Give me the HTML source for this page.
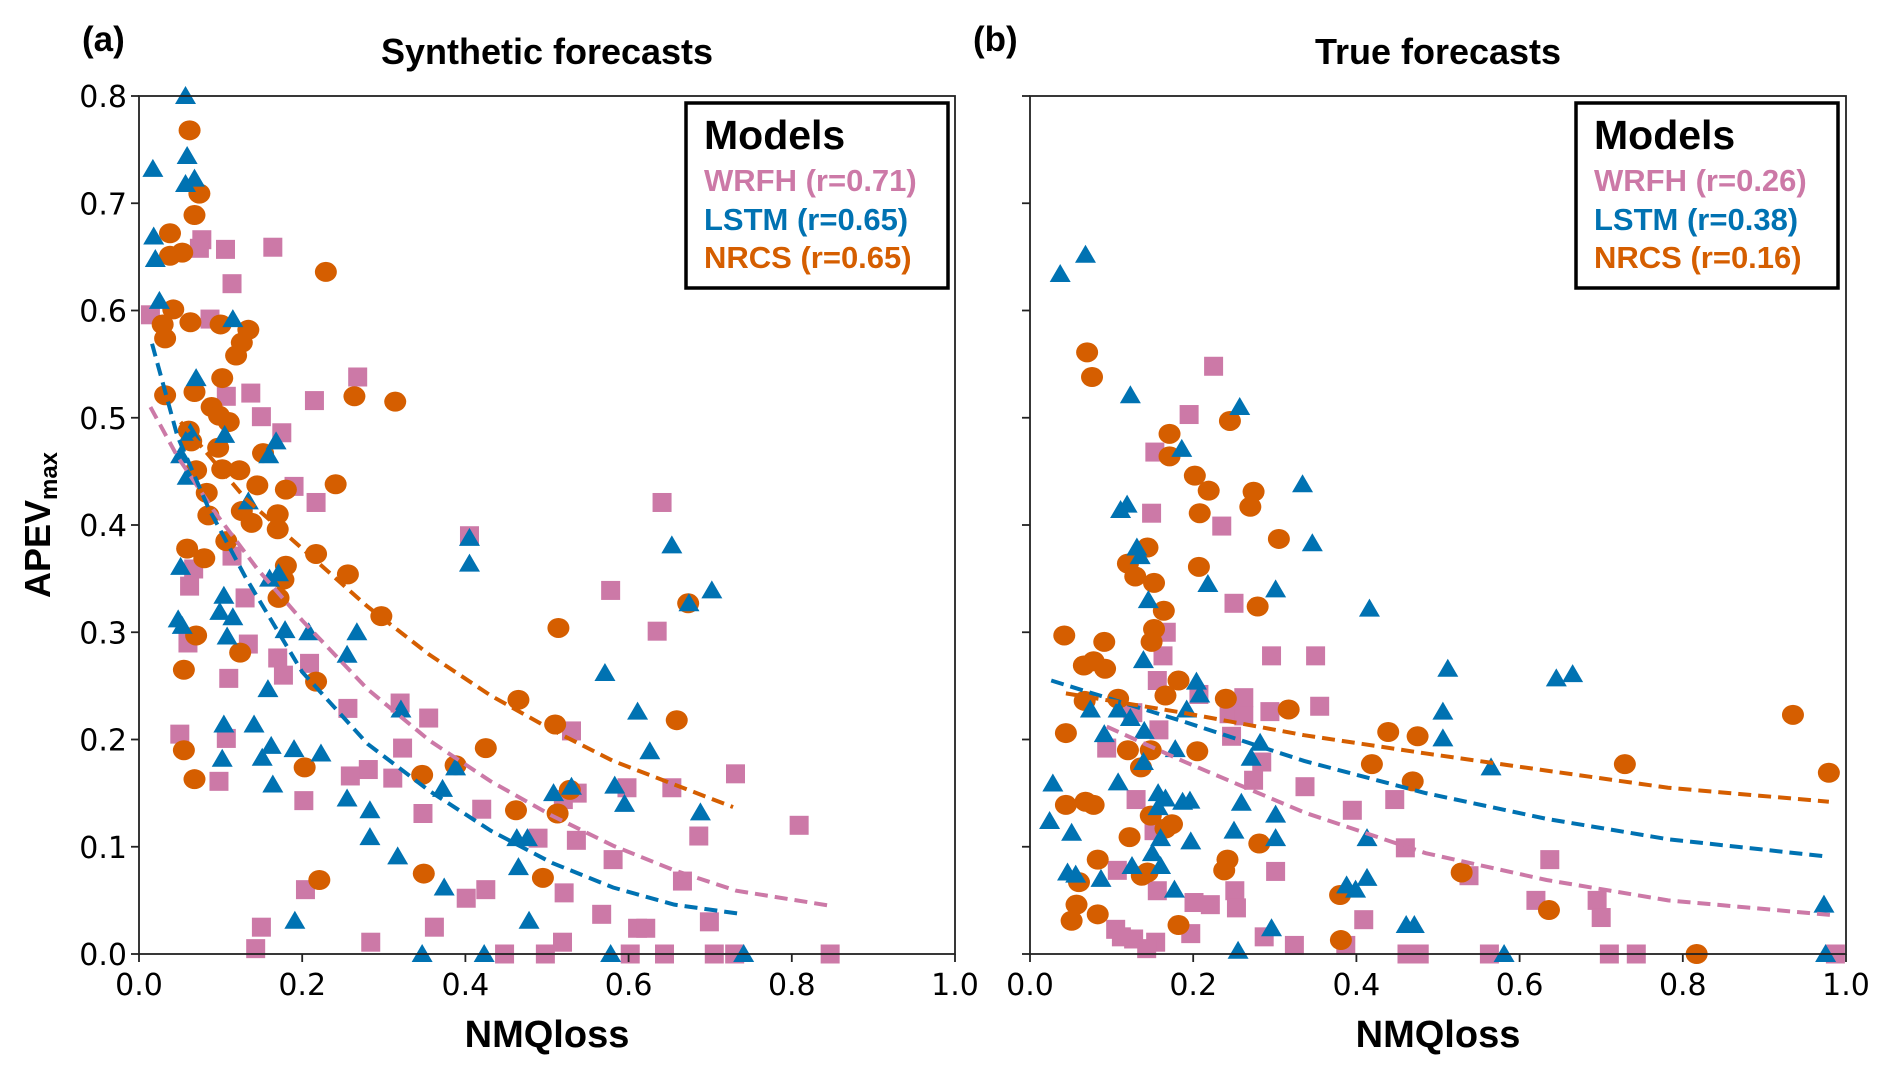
<!DOCTYPE html>
<html><head><meta charset="utf-8"><style>
html,body{margin:0;padding:0;background:#fff;}
svg{display:block;}
.tk{font-family:"DejaVu Sans","Liberation Sans",sans-serif;font-size:30px;fill:#000;}
.bd{font-family:"Liberation Sans",sans-serif;font-weight:bold;fill:#000;}
</style></head><body>
<svg id="chart" width="1892" height="1070" viewBox="0 0 1892 1070" xmlns="http://www.w3.org/2000/svg"></svg>
<script>
const xTicks=[0,0.2,0.4,0.6,0.8,1.0];
const xTickLabels=["0.0","0.2","0.4","0.6","0.8","1.0"];
const yTicks=[0,0.1,0.2,0.3,0.4,0.5,0.6,0.7,0.8];
const yTickLabels=["0.0","0.1","0.2","0.3","0.4","0.5","0.6","0.7","0.8"];
const panelTitles=["Synthetic forecasts","True forecasts"];
const panelLetters=["(a)","(b)"];
const legendA=["WRFH (r=0.71)","LSTM (r=0.65)","NRCS (r=0.65)"];
const legendB=["WRFH (r=0.26)","LSTM (r=0.38)","NRCS (r=0.16)"];

const aWrfh=[[0.014,0.596],[0.077,0.666],[0.074,0.658],[0.106,0.657],[0.114,0.625],[0.164,0.659],[0.087,0.592],[0.107,0.520],[0.137,0.523],[0.150,0.501],[0.175,0.486],[0.215,0.516],[0.268,0.538],[0.190,0.436],[0.217,0.421],[0.114,0.371],[0.067,0.359],[0.062,0.343],[0.130,0.332],[0.060,0.290],[0.134,0.289],[0.110,0.257],[0.170,0.276],[0.177,0.260],[0.209,0.271],[0.256,0.229],[0.320,0.234],[0.355,0.220],[0.323,0.192],[0.311,0.164],[0.281,0.172],[0.259,0.166],[0.202,0.143],[0.098,0.161],[0.107,0.201],[0.050,0.205],[0.348,0.131],[0.420,0.135],[0.204,0.060],[0.401,0.052],[0.425,0.060],[0.362,0.025],[0.150,0.025],[0.143,0.005],[0.284,0.011],[0.448,0.0],[0.498,0.0],[0.519,0.011],[0.521,0.057],[0.489,0.108],[0.536,0.106],[0.537,0.150],[0.520,0.144],[0.530,0.208],[0.405,0.390],[0.578,0.339],[0.641,0.421],[0.635,0.301],[0.598,0.155],[0.653,0.155],[0.581,0.088],[0.567,0.037],[0.611,0.024],[0.621,0.024],[0.602,0.0],[0.644,0.0],[0.666,0.068],[0.686,0.110],[0.699,0.030],[0.705,0.0],[0.730,0.0],[0.731,0.168],[0.809,0.120],[0.847,0.0]];
const aLstm=[[0.057,0.8],[0.017,0.732],[0.059,0.744],[0.068,0.723],[0.057,0.718],[0.018,0.669],[0.020,0.648],[0.025,0.609],[0.115,0.592],[0.070,0.537],[0.063,0.486],[0.105,0.484],[0.051,0.465],[0.059,0.445],[0.168,0.478],[0.159,0.465],[0.134,0.422],[0.051,0.361],[0.160,0.350],[0.171,0.355],[0.104,0.334],[0.099,0.319],[0.115,0.314],[0.048,0.312],[0.053,0.306],[0.108,0.296],[0.179,0.302],[0.208,0.300],[0.267,0.300],[0.255,0.279],[0.158,0.247],[0.104,0.214],[0.102,0.182],[0.141,0.214],[0.151,0.183],[0.162,0.194],[0.164,0.158],[0.190,0.191],[0.223,0.187],[0.321,0.228],[0.255,0.145],[0.283,0.134],[0.283,0.109],[0.317,0.091],[0.372,0.154],[0.388,0.174],[0.374,0.062],[0.191,0.031],[0.347,0.0],[0.423,0.0],[0.405,0.364],[0.405,0.388],[0.463,0.108],[0.476,0.108],[0.465,0.081],[0.478,0.031],[0.508,0.150],[0.530,0.156],[0.571,0.262],[0.583,0.157],[0.595,0.140],[0.611,0.226],[0.626,0.189],[0.578,0.0],[0.653,0.381],[0.674,0.327],[0.702,0.339],[0.688,0.132],[0.741,0.0]];
const aNrcs=[[0.062,0.768],[0.074,0.709],[0.068,0.689],[0.038,0.672],[0.038,0.651],[0.053,0.654],[0.042,0.601],[0.029,0.587],[0.032,0.574],[0.063,0.589],[0.100,0.587],[0.134,0.582],[0.126,0.570],[0.119,0.558],[0.229,0.636],[0.032,0.521],[0.068,0.524],[0.102,0.537],[0.264,0.520],[0.314,0.515],[0.089,0.510],[0.098,0.502],[0.110,0.496],[0.061,0.488],[0.064,0.478],[0.097,0.472],[0.070,0.451],[0.102,0.452],[0.123,0.451],[0.145,0.437],[0.180,0.433],[0.241,0.438],[0.152,0.467],[0.083,0.430],[0.085,0.409],[0.170,0.410],[0.170,0.396],[0.126,0.413],[0.138,0.402],[0.107,0.385],[0.217,0.373],[0.059,0.378],[0.080,0.369],[0.180,0.362],[0.177,0.349],[0.171,0.332],[0.256,0.354],[0.070,0.297],[0.055,0.265],[0.124,0.281],[0.297,0.315],[0.217,0.254],[0.055,0.190],[0.068,0.163],[0.203,0.174],[0.221,0.069],[0.349,0.075],[0.347,0.167],[0.388,0.176],[0.425,0.192],[0.465,0.237],[0.514,0.304],[0.510,0.214],[0.462,0.134],[0.513,0.131],[0.528,0.153],[0.495,0.071],[0.659,0.218],[0.673,0.327]];
const aFitWrfh=[[0.014,0.510],[0.047,0.464],[0.092,0.413],[0.145,0.359],[0.2,0.311],[0.28,0.247],[0.356,0.199],[0.431,0.161],[0.506,0.129],[0.581,0.101],[0.656,0.078],[0.732,0.059],[0.847,0.045]];
const aFitLstm=[[0.016,0.569],[0.047,0.483],[0.085,0.416],[0.130,0.352],[0.2,0.263],[0.28,0.196],[0.356,0.152],[0.431,0.115],[0.506,0.085],[0.581,0.062],[0.656,0.046],[0.741,0.037]];
const aFitNrcs=[[0.051,0.496],[0.130,0.425],[0.2,0.378],[0.28,0.324],[0.356,0.279],[0.431,0.241],[0.506,0.209],[0.581,0.180],[0.656,0.158],[0.728,0.137]];

const bWrfh=[[0.225,0.548],[0.195,0.503],[0.153,0.468],[0.149,0.411],[0.235,0.399],[0.250,0.327],[0.167,0.300],[0.163,0.278],[0.296,0.278],[0.350,0.278],[0.156,0.255],[0.207,0.242],[0.262,0.239],[0.244,0.224],[0.262,0.222],[0.294,0.226],[0.355,0.231],[0.126,0.225],[0.158,0.209],[0.247,0.203],[0.094,0.192],[0.284,0.179],[0.274,0.162],[0.337,0.156],[0.130,0.144],[0.447,0.144],[0.395,0.134],[0.152,0.115],[0.460,0.099],[0.637,0.088],[0.107,0.078],[0.301,0.077],[0.538,0.073],[0.156,0.059],[0.251,0.059],[0.201,0.048],[0.221,0.046],[0.253,0.043],[0.620,0.050],[0.695,0.050],[0.700,0.034],[0.409,0.032],[0.105,0.023],[0.112,0.016],[0.127,0.014],[0.154,0.011],[0.197,0.019],[0.287,0.016],[0.324,0.008],[0.387,0.008],[0.143,0.005],[0.462,0.0],[0.477,0.0],[0.563,0.0],[0.710,0.0],[0.743,0.0],[0.987,0.0]];
const bLstm=[[0.037,0.634],[0.068,0.652],[0.123,0.521],[0.257,0.510],[0.186,0.471],[0.111,0.414],[0.119,0.419],[0.334,0.438],[0.346,0.383],[0.131,0.379],[0.135,0.371],[0.218,0.345],[0.301,0.340],[0.145,0.330],[0.416,0.322],[0.139,0.274],[0.512,0.266],[0.645,0.257],[0.665,0.261],[0.204,0.254],[0.208,0.242],[0.074,0.228],[0.108,0.228],[0.123,0.220],[0.192,0.228],[0.506,0.226],[0.091,0.205],[0.140,0.208],[0.282,0.197],[0.178,0.191],[0.271,0.183],[0.506,0.201],[0.565,0.174],[0.139,0.179],[0.028,0.159],[0.108,0.160],[0.157,0.150],[0.166,0.145],[0.187,0.142],[0.196,0.143],[0.157,0.137],[0.259,0.141],[0.301,0.130],[0.024,0.124],[0.051,0.113],[0.160,0.108],[0.197,0.105],[0.250,0.115],[0.301,0.108],[0.413,0.108],[0.150,0.094],[0.046,0.076],[0.056,0.074],[0.125,0.082],[0.160,0.082],[0.087,0.070],[0.177,0.060],[0.388,0.064],[0.399,0.060],[0.413,0.071],[0.461,0.027],[0.471,0.027],[0.296,0.024],[0.255,0.003],[0.581,0.0],[0.973,0.046],[0.975,0.0]];
const bNrcs=[[0.070,0.561],[0.076,0.538],[0.245,0.497],[0.171,0.485],[0.171,0.464],[0.202,0.446],[0.219,0.432],[0.274,0.431],[0.208,0.411],[0.270,0.417],[0.305,0.387],[0.144,0.379],[0.120,0.364],[0.207,0.361],[0.129,0.352],[0.152,0.346],[0.279,0.324],[0.164,0.320],[0.152,0.303],[0.149,0.291],[0.042,0.297],[0.091,0.291],[0.066,0.269],[0.078,0.273],[0.092,0.266],[0.182,0.255],[0.166,0.241],[0.240,0.238],[0.108,0.238],[0.067,0.236],[0.317,0.228],[0.439,0.207],[0.475,0.203],[0.044,0.206],[0.120,0.190],[0.148,0.190],[0.205,0.189],[0.935,0.223],[0.136,0.174],[0.419,0.177],[0.469,0.161],[0.729,0.177],[0.979,0.169],[0.044,0.139],[0.068,0.142],[0.078,0.139],[0.148,0.129],[0.174,0.121],[0.166,0.117],[0.122,0.109],[0.281,0.103],[0.083,0.088],[0.242,0.088],[0.238,0.078],[0.529,0.076],[0.144,0.076],[0.137,0.073],[0.060,0.067],[0.057,0.046],[0.083,0.037],[0.051,0.031],[0.182,0.027],[0.380,0.055],[0.636,0.041],[0.381,0.013],[0.817,0.0]];
const bFitWrfh=[[0.094,0.212],[0.187,0.180],[0.336,0.132],[0.485,0.094],[0.633,0.069],[0.782,0.050],[0.987,0.036]];
const bFitLstm=[[0.026,0.255],[0.187,0.217],[0.336,0.180],[0.485,0.150],[0.633,0.126],[0.782,0.107],[0.975,0.091]];
const bFitNrcs=[[0.044,0.243],[0.187,0.225],[0.336,0.204],[0.485,0.187],[0.633,0.171],[0.782,0.155],[0.979,0.142]];

const NS="http://www.w3.org/2000/svg";
const svg=document.getElementById('chart');
const C={wrfh:"#cc79a7",lstm:"#0072b2",nrcs:"#d55e00"};
function el(tag,attrs,parent){const e=document.createElementNS(NS,tag);for(const k in attrs)e.setAttribute(k,attrs[k]);(parent||svg).appendChild(e);return e;}
const Y0=954,Y1=96;
function drawPanel(left,right,idx,wr,ls,nr,fw,fl,fn,legend,legX){
  const g=el('g',{});
  
  
  const sx=v=>left+(right-left)*v;
  const sy=v=>Y0-(Y0-Y1)*v/0.8;
  const mg=el('g',{},g);
  wr.forEach(p=>{const r=el('rect',{x:sx(p[0])-9.5,y:sy(p[1])-9.5,width:19,height:19,fill:C.wrfh},mg);
    
    });
  nr.forEach(p=>{const c=el('ellipse',{cx:sx(p[0]),cy:sy(p[1]),rx:11,ry:10,fill:C.nrcs},mg);
    
    });
  ls.forEach(p=>{const x=sx(p[0]),y=sy(p[1]);const t=el('polygon',{points:`${x},${y-10} ${x-10.5},${y+8} ${x+10.5},${y+8}`,fill:C.lstm},mg);
    
    });
  [[fw,C.wrfh,'wrfh'],[fl,C.lstm,'lstm'],[fn,C.nrcs,'nrcs']].forEach(([arr,col,n])=>{
    const l=el('polyline',{points:arr.map(p=>sx(p[0])+','+sy(p[1])).join(' '),fill:'none',stroke:col,'stroke-width':4,'stroke-dasharray':'13,7'},g);
    
    });
  const fr=el('rect',{x:left,y:Y1,width:right-left,height:Y0-Y1,fill:'none',stroke:'#222','stroke-width':1.8},g);
  
  
  xTicks.forEach((v,i)=>{el('line',{x1:sx(v),x2:sx(v),y1:Y0,y2:Y0+8,stroke:'#222','stroke-width':1.8},g);
    const t=el('text',{x:sx(v),y:Y0+41,'text-anchor':'middle',class:'tk'},g);t.textContent=xTickLabels[i];
    
    });
  yTicks.forEach((v,i)=>{el('line',{x1:left-8,x2:left,y1:sy(v),y2:sy(v),stroke:'#222','stroke-width':1.8},g);
    if(idx===0){const t=el('text',{x:left-12,y:sy(v)+11,'text-anchor':'end',class:'tk'},g);t.textContent=yTickLabels[i];
      
      }});
  const xl=el('text',{x:(left+right)/2,y:1047,'text-anchor':'middle',class:'bd','font-size':38},g);xl.textContent='NMQloss';
  
  
  const ti=el('text',{x:(left+right)/2,y:64,'text-anchor':'middle',class:'bd','font-size':36},g);ti.textContent=panelTitles[idx];
  
  
  const le=el('text',{x:left-57,y:51,class:'bd','font-size':35},g);le.textContent=panelLetters[idx];
  
  
  const lg=el('g',{},g);
  
  
  el('rect',{x:legX,y:103,width:262,height:185,fill:'#fff',stroke:'#000','stroke-width':3.5},lg);
  const lt=el('text',{x:legX+18,y:149,class:'bd','font-size':41},lg);lt.textContent='Models';
  
  
  const cols=[C.wrfh,C.lstm,C.nrcs];const ys=[191,230,268];
  legend.forEach((s,i)=>{const t=el('text',{x:legX+18,y:ys[i],class:'bd','font-size':31},lg);t.style.fill=cols[i];t.textContent=s;
    
    });
}
drawPanel(139,955,0,aWrfh,aLstm,aNrcs,aFitWrfh,aFitLstm,aFitNrcs,legendA,686);
drawPanel(1030,1846,1,bWrfh,bLstm,bNrcs,bFitWrfh,bFitLstm,bFitNrcs,legendB,1576);
const yl=el('text',{x:0,y:0,class:'bd','font-size':36,'text-anchor':'middle',transform:'translate(50,525) rotate(-90)'});


yl.innerHTML='APEV<tspan font-size="24" dy="7">max</tspan>';
</script>
</body></html>
